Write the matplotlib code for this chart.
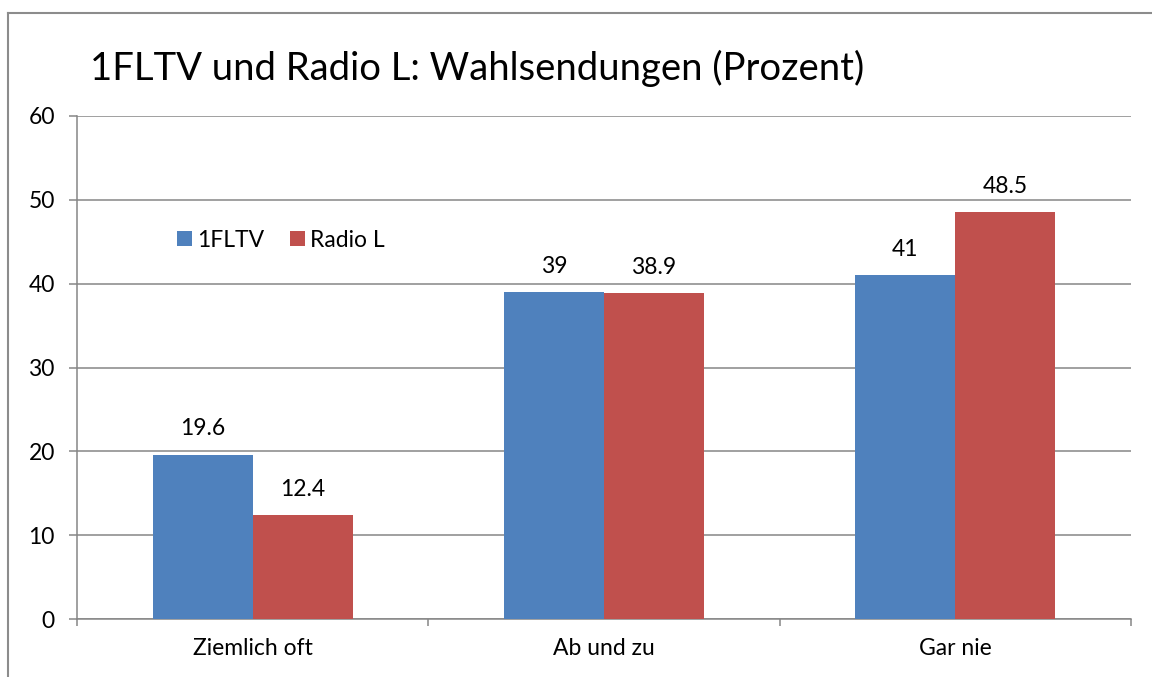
import matplotlib
matplotlib.use("Agg")
import matplotlib.pyplot as plt
import numpy as np
from matplotlib.lines import Line2D

categories = ["Ziemlich oft", "Ab und zu", "Gar nie"]
series_names = ["1FLTV", "Radio L"]
tv_values = [19.6, 39, 41]
radio_values = [12.4, 38.9, 48.5]
tv_labels = ["19.6", "39", "41"]
radio_labels = ["12.4", "38.9", "48.5"]

plt.rcParams["font.family"] = ["Lato", "DejaVu Sans"]

BLUE = "#4F81BD"
RED = "#C0504D"
GRID = "#868686"
FS = 16.5

fig = plt.figure(figsize=(11.52, 6.77), dpi=100)
ax = fig.add_axes([77 / 1152, 1 - 619 / 677, (1131 - 77) / 1152, (619 - 116) / 677])

x = np.arange(len(categories))
w = 0.285
bars_tv = ax.bar(x - w / 2, tv_values, w, color=BLUE, label=series_names[0], zorder=3)
bars_radio = ax.bar(x + w / 2, radio_values, w, color=RED, label=series_names[1], zorder=3)

for bars, labels in ((bars_tv, tv_labels), (bars_radio, radio_labels)):
    for b, lab in zip(bars, labels):
        ax.annotate(lab, (b.get_x() + b.get_width() / 2, b.get_height()),
                    xytext=(0, 11), textcoords="offset points",
                    ha="center", va="bottom", fontsize=FS)

ax.set_xlim(-0.5, 2.5)
ax.set_ylim(0, 60)
ax.set_yticks(range(0, 61, 10))
ax.yaxis.grid(True, color=GRID, linewidth=1.1, zorder=0)
ax.set_axisbelow(True)

ax.set_xticks(x)
ax.set_xticklabels(categories, fontsize=FS)
ax.set_xticks([-0.5, 0.5, 1.5, 2.5], minor=True)
ax.tick_params(axis="x", which="major", length=0, pad=14)
ax.tick_params(axis="x", which="minor", length=5, width=1.1, color=GRID)
ax.tick_params(axis="y", length=6, width=1.1, color=GRID, labelsize=FS, pad=10)

for side in ("top", "right"):
    ax.spines[side].set_visible(False)
for side in ("left", "bottom"):
    ax.spines[side].set_color(GRID)
    ax.spines[side].set_linewidth(1.1)

ax.legend(loc="upper left", bbox_to_anchor=(0.075, 0.815), ncol=2, frameon=False,
          fontsize=FS, handlelength=0.65, handleheight=0.65, handletextpad=0.25,
          columnspacing=1.1)

fig.text(90 / 1152, 1 - 68 / 677, "1FLTV und Radio L: Wahlsendungen (Prozent)",
         fontsize=27.5, va="center", ha="left")

# outer chart border (left and top edges visible)
fig.add_artist(Line2D([8 / 1152, 8 / 1152], [0, 1 - 13 / 677], color="#8C8C8C",
                      linewidth=1.5, transform=fig.transFigure))
fig.add_artist(Line2D([8 / 1152, 1], [1 - 13 / 677, 1 - 13 / 677], color="#8C8C8C",
                      linewidth=1.5, transform=fig.transFigure))

fig.savefig("out.png", dpi=100)
